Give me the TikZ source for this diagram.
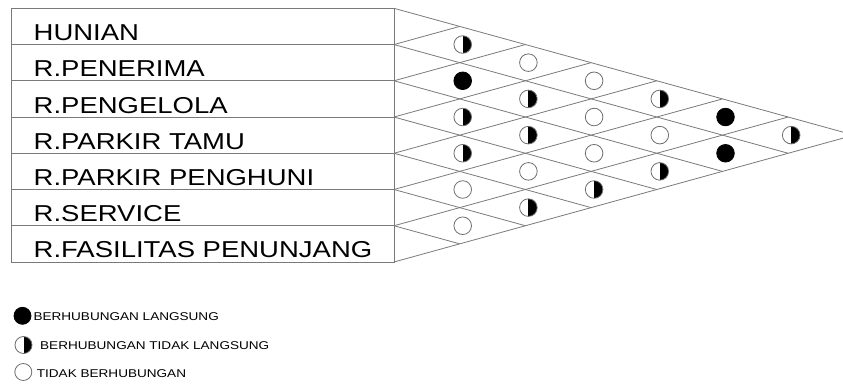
\documentclass[tikz,border=0pt]{standalone}
\usepackage{fontspec}
\setmainfont{Liberation Sans}
\newfontfamily\labfont[FakeStretch=1.195]{Liberation Sans}
\newfontfamily\legfont[FakeStretch=1.2]{Liberation Sans}
\definecolor{lineg}{HTML}{7A7A7A}
\definecolor{circg}{HTML}{6E6E6E}
\begin{document}
\begin{tikzpicture}[x=1pt,y=-1pt,
  gridline/.style={draw=lineg, line width=0.8pt},
  rel/.style={circle, minimum size=17.6pt, inner sep=0pt, line width=0.8pt},
  fullrel/.style={rel, fill=black, draw=black},
  halfrel/.style={rel, draw=circg, fill=white, path picture={\fill[black] (path picture bounding box.north) rectangle (path picture bounding box.south east);}},
  emptyrel/.style={rel, draw=circg, fill=white},
  rowlabel/.style={anchor=base west, inner sep=0pt, font=\labfont\fontsize{23}{23}\selectfont},
  leglabel/.style={anchor=base west, inner sep=0pt, font=\legfont\fontsize{11.3}{12}\selectfont},
  legsym/.style={minimum size=17pt}
]
\useasboundingbox (0,0) rectangle (843,385);
\clip (0,0) rectangle (843,385);
\def\xl{11.7}
\def\xr{394}
\def\yt{8.3}
\def\rh{36.24}
\def\cw{65.7}
% table
\draw[gridline] (\xl,\yt) rectangle (\xr,\yt+7*\rh);
\foreach \i in {1,...,6}{
  \draw[gridline] (\xl,\yt+\i*\rh) -- (\xr,\yt+\i*\rh);
}
% triangle grid
\foreach \i in {0,...,7}{
  \draw[gridline] (\xr,\yt+\i*\rh) -- ({\xr+(7-\i)*\cw},{\yt+\i*\rh+(7-\i)*\rh/2});
  \draw[gridline] (\xr,\yt+\i*\rh) -- ({\xr+\i*\cw},{\yt+\i*\rh-\i*\rh/2});
}
% row labels
\foreach \t [count=\i] in {HUNIAN,R.PENERIMA,R.PENGELOLA,R.PARKIR TAMU,R.PARKIR PENGHUNI,R.SERVICE,R.FASILITAS PENUNJANG}{
  \node[rowlabel] (row\i) at (33.5,{\yt+\i*\rh-4}) {\t};
}
% relations: i/j/style
\foreach \a/\b/\s in {1/2/halfrel,2/3/fullrel,3/4/halfrel,4/5/halfrel,5/6/emptyrel,6/7/emptyrel,
  1/3/emptyrel,2/4/halfrel,3/5/halfrel,4/6/emptyrel,5/7/halfrel,
  1/4/emptyrel,2/5/emptyrel,3/6/emptyrel,4/7/halfrel,
  1/5/halfrel,2/6/emptyrel,3/7/halfrel,
  1/6/fullrel,2/7/fullrel,
  1/7/halfrel}{
  \node[\s] (r\a-\b) at ({\xr+(\b-\a)*\cw+3},{\yt+\rh*(\a+\b-1)/2}) {};
}
% legend
\node[fullrel, legsym] (lg1) at (22.5,315.8) {};
\node[leglabel] (lt1) at (33.3,320.7) {BERHUBUNGAN LANGSUNG};
\node[halfrel, legsym] (lg2) at (23.5,345) {};
\node[leglabel] (lt2) at (40,349.3) {BERHUBUNGAN TIDAK LANGSUNG};
\node[emptyrel, legsym] (lg3) at (23.3,372) {};
\node[leglabel] (lt3) at (36.7,377) {TIDAK BERHUBUNGAN};
\end{tikzpicture}
\end{document}
